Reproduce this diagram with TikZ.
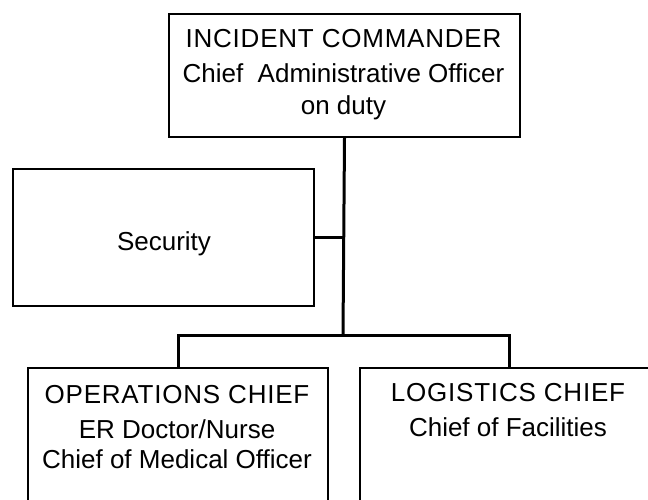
\documentclass[tikz,border=0pt]{standalone}
\usepackage{fontspec}
\setmainfont{Liberation Sans}
\newcommand{\capsline}[1]{{\addfontfeature{LetterSpace=3}#1}}
\begin{document}
\begin{tikzpicture}[x=1pt,y=-1pt,
  box/.style={draw, line width=2pt, rectangle, inner sep=0pt, anchor=north west},
  lbl/.style={inner sep=0pt, align=center, font=\fontsize{26pt}{35pt}\selectfont},
  conn/.style={line width=3pt}]
\useasboundingbox (0,0) rectangle (648,499);
\clip (0,0) rectangle (648,499);
% boxes
\node[box, minimum width=351pt, minimum height=123.5pt] (ic) at (168,12.5) {};
\node[box, minimum width=301pt, minimum height=137pt] (sec) at (12,168) {};
\node[box, minimum width=300pt, minimum height=200pt] (ops) at (27,366.5) {};
\node[box, minimum width=298pt, minimum height=200pt] (log) at (359,366.5) {};
% texts
\node[lbl, anchor=north] (ictxt) at (343.5,29.5)
  {\capsline{INCIDENT COMMANDER}\\Chief\ \ Administrative Officer\\[-3pt]on duty};
\node[lbl, anchor=base] (sectxt) at (164,250.5) {Security};
\node[lbl, anchor=north] (opstxt) at (177,385)
  {\capsline{OPERATIONS CHIEF}\\ER Doctor/Nurse\\[-5pt]Chief of Medical Officer};
\node[lbl, anchor=north] (logtxt) at (508,383.5)
  {\capsline{LOGISTICS CHIEF}\\Chief of Facilities};
% connectors
\coordinate (j) at (343,335);
\draw[conn] (ic.south) -- (j);
\draw[conn] (sec.east) -- (sec.east -| j);
\draw[conn] (ops.north) |- (j) -| (log.north);
\end{tikzpicture}
\end{document}
